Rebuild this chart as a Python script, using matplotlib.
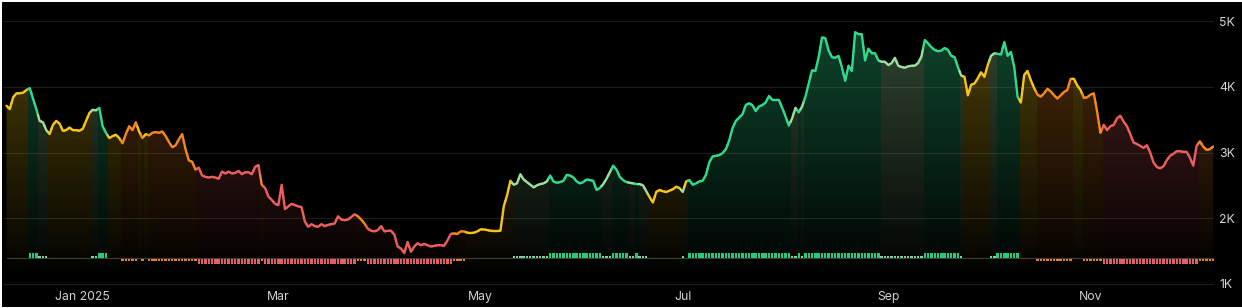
import numpy as np
import pandas as pd
import matplotlib
matplotlib.use("Agg")
import matplotlib.pyplot as plt
import matplotlib.dates as mdates
from matplotlib.collections import LineCollection
from matplotlib.colors import to_rgba
from matplotlib.patches import Rectangle

# ---------------- data ----------------
start_date = "2024-12-09"

values_k = [
    3.71, 3.66, 3.84, 3.90, 3.90, 3.91, 3.95, 3.98, 3.82, 3.66,
    3.48, 3.46, 3.34, 3.28, 3.42, 3.48, 3.44, 3.33, 3.34, 3.38,
    3.34, 3.34, 3.33, 3.36, 3.48, 3.60, 3.65, 3.64, 3.68, 3.40,
    3.30, 3.22, 3.25, 3.27, 3.22, 3.14, 3.28, 3.40, 3.34, 3.46,
    3.32, 3.22, 3.28, 3.26, 3.30, 3.31, 3.30, 3.32, 3.25, 3.16,
    3.08, 3.11, 3.20, 3.28, 3.05, 2.88, 2.86, 2.74, 2.77, 2.65,
    2.63, 2.62, 2.63, 2.62, 2.60, 2.71, 2.68, 2.71, 2.68, 2.69,
    2.72, 2.67, 2.70, 2.70, 2.67, 2.78, 2.81, 2.51, 2.46, 2.33,
    2.28, 2.22, 2.20, 2.51, 2.14, 2.18, 2.22, 2.20, 2.18, 2.17,
    1.95, 1.87, 1.91, 1.88, 1.87, 1.91, 1.88, 1.90, 1.91, 1.92,
    2.03, 1.98, 1.97, 1.98, 2.02, 2.06, 2.03, 1.98, 1.92, 1.84,
    1.81, 1.80, 1.82, 1.88, 1.80, 1.81, 1.81, 1.75, 1.57, 1.54,
    1.47, 1.64, 1.49, 1.57, 1.62, 1.59, 1.61, 1.59, 1.57, 1.58,
    1.59, 1.59, 1.58, 1.66, 1.76, 1.77, 1.76, 1.80, 1.80, 1.78,
    1.78, 1.78, 1.80, 1.83, 1.83, 1.82, 1.81, 1.81, 1.81, 1.81,
    2.18, 2.35, 2.57, 2.51, 2.53, 2.67, 2.59, 2.55, 2.51, 2.47,
    2.50, 2.52, 2.53, 2.56, 2.65, 2.56, 2.54, 2.55, 2.57, 2.66,
    2.65, 2.62, 2.56, 2.53, 2.55, 2.59, 2.58, 2.57, 2.43, 2.46,
    2.52, 2.60, 2.70, 2.80, 2.74, 2.63, 2.58, 2.55, 2.54, 2.53,
    2.52, 2.52, 2.50, 2.41, 2.32, 2.24, 2.40, 2.43, 2.41, 2.40,
    2.42, 2.44, 2.48, 2.46, 2.40, 2.56, 2.58, 2.51, 2.53, 2.56,
    2.57, 2.66, 2.85, 2.94, 2.95, 2.96, 2.99, 3.05, 3.18, 3.37,
    3.48, 3.53, 3.58, 3.72, 3.75, 3.72, 3.63, 3.70, 3.72, 3.76,
    3.86, 3.80, 3.80, 3.80, 3.68, 3.55, 3.41, 3.52, 3.68, 3.61,
    3.70, 3.85, 4.05, 4.25, 4.24, 4.45, 4.75, 4.74, 4.55, 4.45,
    4.44, 4.47, 4.30, 4.09, 4.32, 4.24, 4.83, 4.80, 4.80, 4.40,
    4.58, 4.51, 4.51, 4.40, 4.38, 4.38, 4.33, 4.36, 4.44, 4.32,
    4.30, 4.29, 4.31, 4.32, 4.32, 4.36, 4.46, 4.71, 4.66, 4.60,
    4.56, 4.54, 4.55, 4.59, 4.56, 4.47, 4.45, 4.30, 4.17, 4.15,
    3.87, 4.03, 4.05, 4.13, 4.22, 4.15, 4.33, 4.47, 4.51, 4.50,
    4.49, 4.68, 4.47, 4.53, 4.30, 3.85, 3.76, 4.18, 4.24, 4.10,
    3.98, 3.88, 3.85, 3.90, 3.97, 3.93, 3.87, 3.82, 3.87, 3.92,
    3.95, 4.12, 4.12, 4.02, 3.95, 3.83, 3.84, 3.88, 3.90, 3.62,
    3.30, 3.42, 3.34, 3.40, 3.42, 3.52, 3.56, 3.47, 3.40, 3.28,
    3.15, 3.13, 3.10, 3.07, 3.11, 3.00, 2.85, 2.78, 2.76, 2.79,
    2.88, 2.95, 2.98, 3.02, 3.02, 3.01, 3.01, 2.92, 2.80, 3.10,
    3.17, 3.09, 3.04, 3.05, 3.09,
]

# daily signal as runs: level (-2..2) and number of days
signal_levels = [0, 2, 1, 0, 1, 2, 0, -1, 0, -1, 0, -1, -2, -1, -2, -1, -2, -1,
                 0, 1, 2, 1, 2, 1, 2, 1, 0, 1, 0, 2, 1, 2, 1, 2, 1, 2, 1,
                 0, 1, 2, 0, -1, 0, -1, -2, -1]
signal_days = [7, 3, 3, 13, 2, 3, 4, 5, 1, 1, 1, 15, 19, 1, 28, 3, 26, 4,
               14, 11, 16, 3, 5, 2, 1, 3, 10, 1, 1, 31, 2, 1, 1, 23, 13, 11, 1,
               8, 2, 7, 5, 11, 3, 6, 29, 5]

month_ticks = ["2025-01-01", "2025-03-01", "2025-05-01", "2025-07-01",
               "2025-09-01", "2025-11-01"]
month_labels = ["Jan 2025", "Mar", "May", "Jul", "Sep", "Nov"]
y_ticks = [1, 2, 3, 4, 5]
y_labels = ["1K", "2K", "3K", "4K", "5K"]
baseline_k = 1.39

# ---------------- styles ----------------
W, H = 1242, 308
line_colors = {2: "#2fdc8e", 1: "#9ddf9c", 0: "#f5c518", -1: "#f5871f", -2: "#ee5e5e"}
bar_colors = {2: "#27c97e", 1: "#82cf9c", -1: "#e9812a", -2: "#e45d67"}
bar_heights = {2: 0.08, 1: 0.03, -1: -0.035, -2: -0.075}

plt.rcParams["font.family"] = ["Inter", "DejaVu Sans"]

fig = plt.figure(figsize=(W / 100, H / 100), dpi=100, facecolor="white")
fig.patches.append(Rectangle((2 / W, 1 / H), (W - 2) / W, 305 / H,
                             transform=fig.transFigure, facecolor="black",
                             edgecolor="none", zorder=-10))

# pixel mapping
px_per_day = 3.315
x0_px = 6.5
px_per_k = 65.75
y1k_px = 284.0
ax_left_px, ax_right_px = 3.0, 1214.0
ylo, yhi = 0.97, 5.29
top_px = y1k_px - (yhi - 1) * px_per_k
bot_px = y1k_px + (1 - ylo) * px_per_k
ax = fig.add_axes([ax_left_px / W, (H - bot_px) / H,
                   (ax_right_px - ax_left_px) / W, (bot_px - top_px) / H])
ax.set_facecolor("none")

dates = pd.date_range(start_date, periods=len(values_k), freq="D")
x = mdates.date2num(dates)
v = np.array(values_k)
sig = np.repeat(signal_levels, signal_days)[:len(v)]

d_left = (ax_left_px - x0_px) / px_per_day
d_right = (ax_right_px - x0_px) / px_per_day
ax.set_xlim(x[0] + d_left, x[0] + d_right)
ax.set_ylim(ylo, yhi)

# ---------------- gradient fill ----------------
fill_bottom = 1.10
fill_top = 5.0
ny = 400
t = np.linspace(0, 1, ny)
img = np.zeros((ny, len(x), 4))
for i, lev in enumerate(sig):
    r, g, b, _ = to_rgba(line_colors[int(lev)])
    img[:, i, 0] = r
    img[:, i, 1] = g
    img[:, i, 2] = b
    img[:, i, 3] = 0.32 * t ** 0.9
poly = ax.fill_between(x, v, fill_bottom, color="none", lw=0)
im = ax.imshow(img, extent=(x[0] - 0.5, x[-1] + 0.5, fill_bottom, fill_top),
               origin="lower", aspect="auto", interpolation="nearest", zorder=1)
im.set_clip_path(poly.get_paths()[0], transform=ax.transData)

# ---------------- baseline + bars ----------------
ax.plot([x[0], x[-1]], [baseline_k, baseline_k], color="#3a3f3b", lw=0.8, zorder=2)
bx, bh, bb, bc = [], [], [], []
for i, lev in enumerate(sig):
    lev = int(lev)
    if lev == 0:
        continue
    bx.append(x[i])
    bh.append(bar_heights[lev])
    bb.append(baseline_k + (0.004 if lev > 0 else -0.008))
    bc.append(bar_colors[lev])
ax.bar(bx, bh, bottom=bb, width=0.72, color=bc, linewidth=0, zorder=3)

# ---------------- colored line ----------------
segs, cols = [], []
n = len(v)
for i in range(n):
    pts = []
    if i > 0:
        pts.append((x[i] - 0.5, (v[i - 1] + v[i]) / 2))
    pts.append((x[i], v[i]))
    if i < n - 1:
        pts.append((x[i] + 0.5, (v[i] + v[i + 1]) / 2))
    segs.append(pts)
    cols.append(line_colors[int(sig[i])])
lc = LineCollection(segs, colors=cols, linewidths=1.7, capstyle="round",
                    joinstyle="round", zorder=4)
ax.add_collection(lc)

# ---------------- axes styling ----------------
ax.yaxis.tick_right()
ax.set_yticks(y_ticks)
ax.set_yticklabels(y_labels)
ax.set_xticks(mdates.date2num(pd.to_datetime(month_ticks)))
ax.set_xticklabels(month_labels)
ax.tick_params(axis="y", length=0, pad=3.8, labelcolor="#d6d6d6", labelsize=8.8)
ax.tick_params(axis="x", length=0, pad=3.6, labelcolor="#d2d2d2", labelsize=8.8)
ax.grid(axis="y", color="#1b1b1b", lw=0.8, zorder=0)
ax.set_axisbelow(True)
for s in ax.spines.values():
    s.set_visible(False)

fig.savefig("out.png", dpi=100, facecolor=fig.get_facecolor())
